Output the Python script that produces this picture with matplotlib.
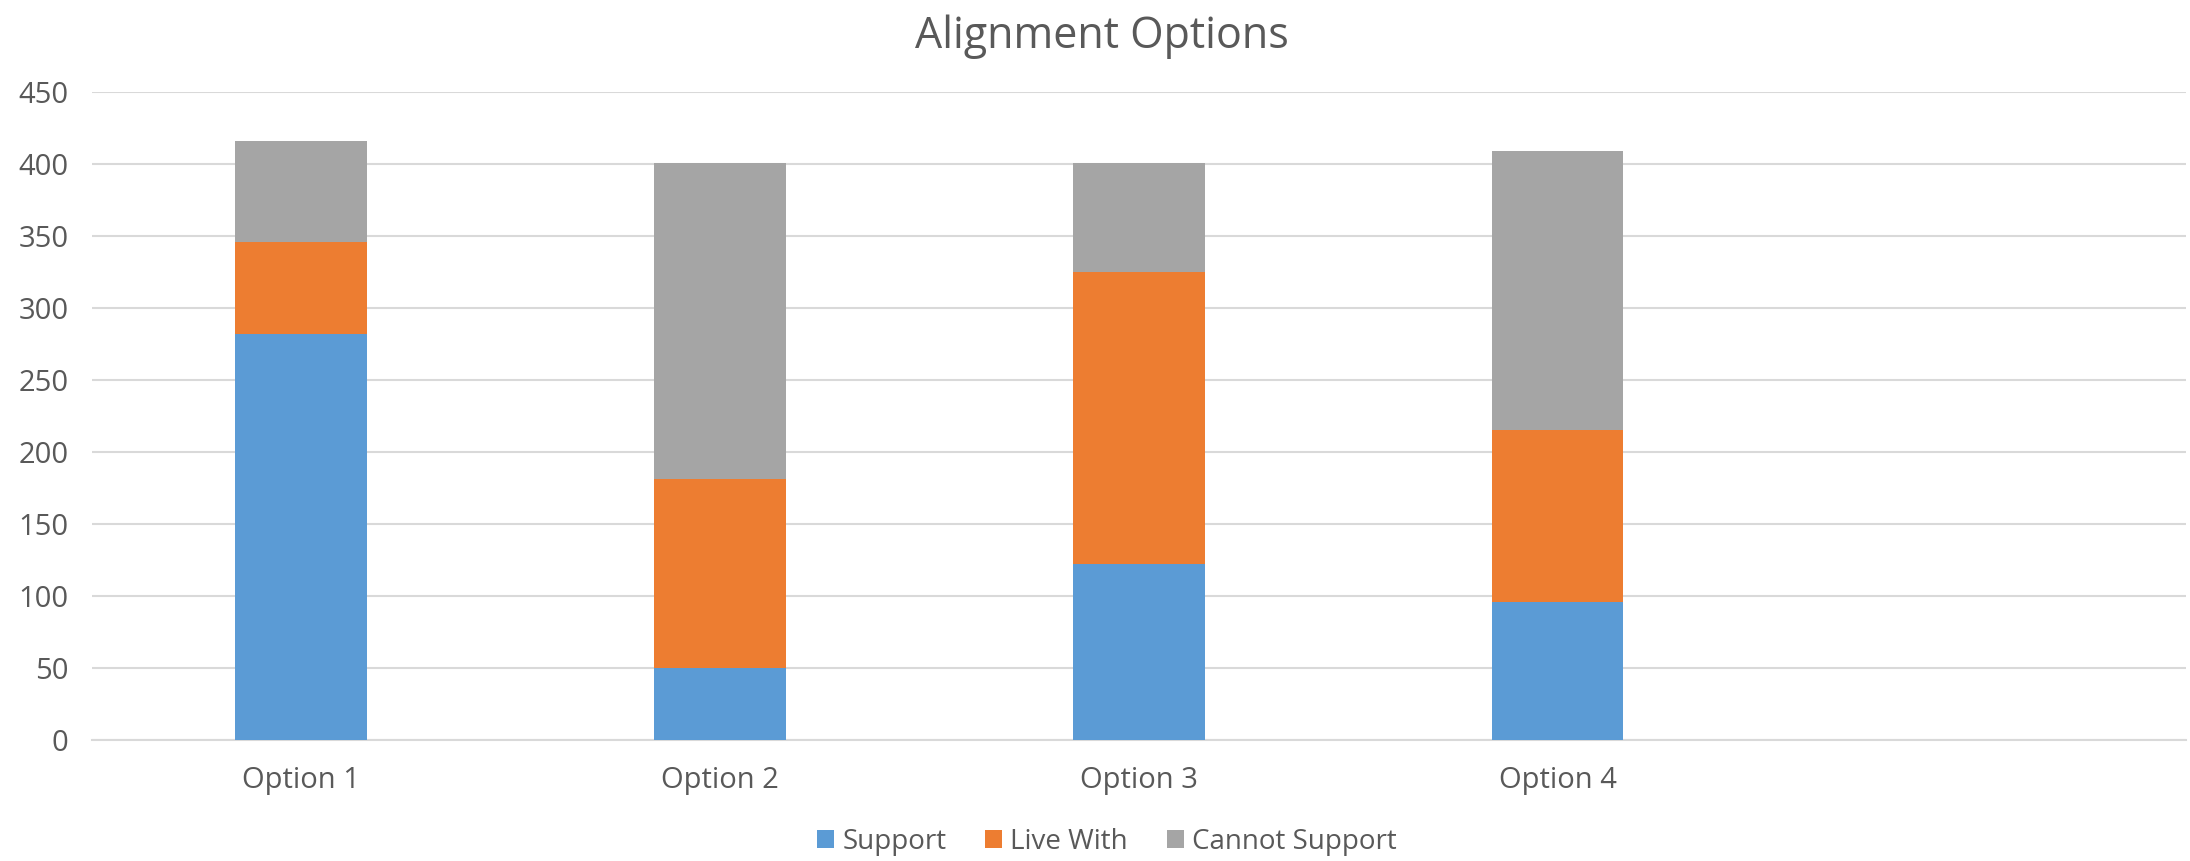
import matplotlib
matplotlib.use("Agg")
import matplotlib.pyplot as plt
import numpy as np

categories = ["Option 1", "Option 2", "Option 3", "Option 4", ""]
support = [282, 50, 122, 96, 0]
live_with = [64, 131, 203, 119, 0]
cannot_support = [70, 220, 76, 194, 0]
series_names = ["Support", "Live With", "Cannot Support"]
colors = ["#5B9BD5", "#ED7D31", "#A5A5A5"]
yticks = [0, 50, 100, 150, 200, 250, 300, 350, 400, 450]

plt.rcParams['font.family'] = ['Open Sans', 'DejaVu Sans']
text_color = "#595959"

fig = plt.figure(figsize=(21.9, 8.61), dpi=100)
ax = fig.add_axes([0.042, 0.1405, 0.956, 0.7525])

x = np.arange(len(categories))
w = 0.315
s = np.array(support)
l = np.array(live_with)
c = np.array(cannot_support)
b1 = ax.bar(x, s, w, color=colors[0], label=series_names[0], zorder=3)
b2 = ax.bar(x, l, w, bottom=s, color=colors[1], label=series_names[1], zorder=3)
b3 = ax.bar(x, c, w, bottom=s + l, color=colors[2], label=series_names[2], zorder=3)

ax.set_xlim(-0.5, len(categories) - 0.5)
ax.set_ylim(0, 450)
ax.set_yticks(yticks)
ax.set_xticks(x[:4])
ax.set_xticklabels(categories[:4])
ax.yaxis.grid(True, color="#D9D9D9", linewidth=1.5, zorder=0)
ax.set_axisbelow(True)
for sp in ["top", "right", "left"]:
    ax.spines[sp].set_visible(False)
ax.spines["bottom"].set_color("#D9D9D9")
ax.spines["bottom"].set_linewidth(1.5)
ax.tick_params(axis="both", length=0, labelsize=21, labelcolor=text_color)
ax.tick_params(axis="y", pad=17)
ax.tick_params(axis="x", pad=19)

fig.text(0.503, 0.944, "Alignment Options", fontsize=31, color=text_color,
         ha="center", va="baseline")

fig.legend(handles=[b1, b2, b3], labels=series_names, loc="center",
           bbox_to_anchor=(0.5055, 0.022), ncol=3, frameon=False, fontsize=20,
           labelcolor=text_color, handlelength=0.6, handleheight=0.6,
           handletextpad=0.3, columnspacing=1.4, borderpad=0)

fig.savefig("out.png", dpi=100)
